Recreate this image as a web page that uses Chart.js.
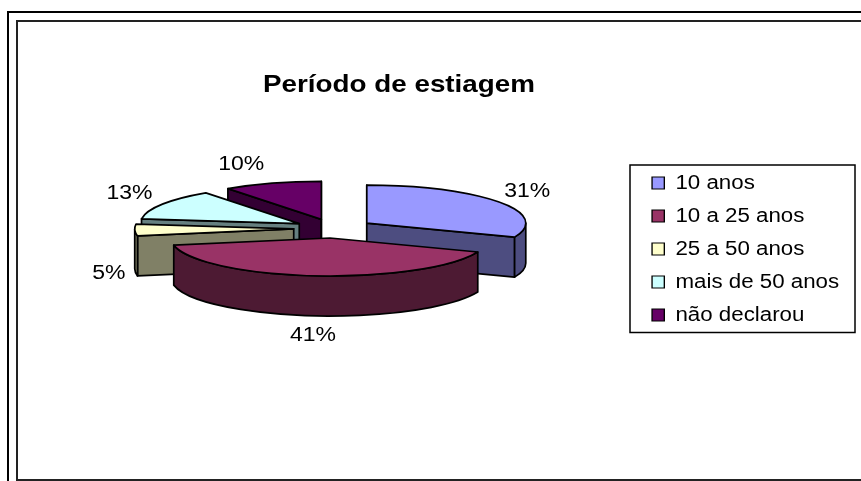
<!DOCTYPE html>
<html>
<head>
<meta charset="utf-8">
<style>html,body{margin:0;padding:0;background:#fff;overflow:hidden}canvas{display:block}</style>
<script src="https://cdn.jsdelivr.net/npm/chart.js@4"></script>
</head>
<body>
<div style="width:861px;height:481px"><canvas id="c" width="861" height="481"></canvas></div>
<script>
const categories = ['10 anos', '10 a 25 anos', '25 a 50 anos', 'mais de 50 anos', 'não declarou'];
const values = [31, 41, 5, 13, 10];
const topColors = ['#9999FF', '#993366', '#FFFFCC', '#CCFFFF', '#660066'];
const wallColors = ['#4D4D80', '#4D1A33', '#808066', '#668080', '#330033'];
const titleText = 'Período de estiagem';

const FONT = '"Liberation Sans", Arial, sans-serif';
const pie = {cx: 333.7, cy: 228.5, tilt: 0.239, depth: 40, radius: 159, explode: 40};
const paintOrder = [4, 3, 2, 0, 1];
const labelNudge = [[29, -10], [-2, 60], [-26, 43], [-33, -11], [-31, -19]];
const textStretch = 1.115, labelStretch = 1.15, titleStretch = 1.135;
const legendRect = {l: 630, t: 165, r: 855, b: 332.5};
const titleCenter = {x: 399, y: 85};
const legendOrigin = {x: 571.8, y: 160};

function stretched(item, sx, before) {
  const orig = item.draw;
  item.draw = function (a) {
    const ctx = item.ctx;
    ctx.save();
    ctx.scale(sx, 1);
    before();
    orig.call(item, a);
    ctx.restore();
  };
}

const pie3d = {
  id: 'pie3d',
  afterLayout(chart) {
    const t = chart.titleBlock, l = chart.legend;
    if (!t._wrapped) {
      t._wrapped = true;
      stretched(t, titleStretch, () => {
        const x = titleCenter.x / titleStretch, h = t.options.font.size * 1.2;
        t.left = x - 200; t.right = x + 200; t.top = titleCenter.y - h / 2; t.bottom = t.top + h;
      });
      stretched(l, textStretch, () => {
        l.left = legendOrigin.x; l.right = 861 / textStretch; l.top = legendOrigin.y; l.bottom = 470;
      });
    }
  },
  beforeDraw(chart) {
    const c = chart.ctx;
    c.save();
    c.fillStyle = '#fff';
    c.fillRect(0, 0, 861, 481);
    // outer page frame
    c.strokeStyle = '#000';
    c.lineWidth = 2;
    c.beginPath(); c.moveTo(861, 12); c.lineTo(8, 12); c.lineTo(8, 481); c.stroke();
    // inner chart frame
    c.strokeStyle = '#222';
    c.beginPath(); c.moveTo(861, 21); c.lineTo(17, 21); c.lineTo(17, 480); c.lineTo(861, 480); c.stroke();
    // legend frame
    c.strokeStyle = '#000';
    c.lineWidth = 1.5;
    c.strokeRect(legendRect.l, legendRect.t, legendRect.r - legendRect.l, legendRect.b - legendRect.t);
    c.restore();
  },
  beforeDatasetsDraw(chart) {
    const ctx = chart.ctx;
    const meta = chart.getDatasetMeta(0);
    const {tilt, depth, cx, cy, explode} = pie;
    const geom = meta.data.map(el => {
      const p = el.getProps(['startAngle', 'endAngle', 'outerRadius']);
      const mid = (p.startAngle + p.endAngle) / 2;
      return {el, s: p.startAngle, e: p.endAngle, r: p.outerRadius, mid,
        ax: cx + explode * Math.cos(mid), ay: cy + tilt * explode * Math.sin(mid)};
    });
    const px = (g, a) => g.ax + g.r * Math.cos(a);
    const py = (g, a) => g.ay + tilt * g.r * Math.sin(a);
    const line = () => { ctx.lineWidth = 1.7; ctx.strokeStyle = '#000'; ctx.lineJoin = 'round'; };
    const radialWall = (g, a, color) => {
      ctx.beginPath();
      ctx.moveTo(g.ax, g.ay);
      ctx.lineTo(px(g, a), py(g, a));
      ctx.lineTo(px(g, a), py(g, a) + depth);
      ctx.lineTo(g.ax, g.ay + depth);
      ctx.closePath();
      ctx.fillStyle = color; ctx.fill(); line(); ctx.stroke();
    };
    paintOrder.forEach(i => {
      const g = geom[i], wall = wallColors[i], eps = 1e-6;
      // side walls that face the viewer
      if (Math.cos(g.s) < eps) radialWall(g, g.s, wall);
      if (Math.cos(g.e) > -eps) radialWall(g, g.e, wall);
      // outer rim, front half only
      const a0 = Math.max(g.s, 0), a1 = Math.min(g.e, Math.PI);
      if (a1 > a0) {
        ctx.beginPath();
        ctx.ellipse(g.ax, g.ay, g.r, tilt * g.r, 0, a0, a1);
        ctx.ellipse(g.ax, g.ay + depth, g.r, tilt * g.r, 0, a1, a0, true);
        ctx.closePath();
        ctx.fillStyle = wall; ctx.fill(); line(); ctx.stroke();
      }
      // top face: the library's own arc, flattened and pulled out of the pie
      ctx.save();
      ctx.translate(g.ax, g.ay);
      ctx.scale(1, tilt);
      ctx.translate(-g.el.x, -g.el.y);
      g.el.draw(ctx);
      ctx.restore();
      ctx.beginPath();
      ctx.moveTo(g.ax, g.ay);
      ctx.ellipse(g.ax, g.ay, g.r, tilt * g.r, 0, g.s, g.e);
      ctx.closePath();
      line(); ctx.stroke();
    });
    // percentage labels
    ctx.save();
    ctx.fillStyle = '#000';
    ctx.font = '20px ' + FONT;
    ctx.textAlign = 'center';
    ctx.textBaseline = 'middle';
    geom.forEach((g, i) => {
      const x = px(g, g.mid) + labelNudge[i][0], y = py(g, g.mid) + labelNudge[i][1];
      ctx.save();
      ctx.translate(x, y);
      ctx.scale(labelStretch, 1);
      ctx.fillText(values[i] + '%', 0, 0);
      ctx.restore();
    });
    ctx.restore();
    return false;
  }
};

new Chart(document.getElementById('c'), {
  type: 'doughnut',
  data: {
    labels: categories,
    datasets: [{
      data: values,
      backgroundColor: topColors,
      borderColor: '#000',
      borderWidth: 0,
      radius: pie.radius,
      cutout: 0
    }]
  },
  options: {
    responsive: false,
    animation: false,
    events: [],
    plugins: {
      title: {
        display: true,
        text: titleText,
        color: '#000',
        padding: 0,
        font: {family: FONT, size: 24.5, weight: 'bold', lineHeight: 1.2}
      },
      legend: {
        display: true,
        position: 'right',
        align: 'start',
        labels: {
          color: '#000',
          font: {family: FONT, size: 20},
          boxWidth: 11,
          boxHeight: 12,
          padding: 13,
          generateLabels(chart) {
            return Chart.overrides.doughnut.plugins.legend.labels.generateLabels(chart)
              .map(it => Object.assign(it, {lineWidth: 1.2, strokeStyle: '#000'}));
          }
        }
      },
      tooltip: {enabled: false}
    }
  },
  plugins: [pie3d]
});
</script>
</body>
</html>
